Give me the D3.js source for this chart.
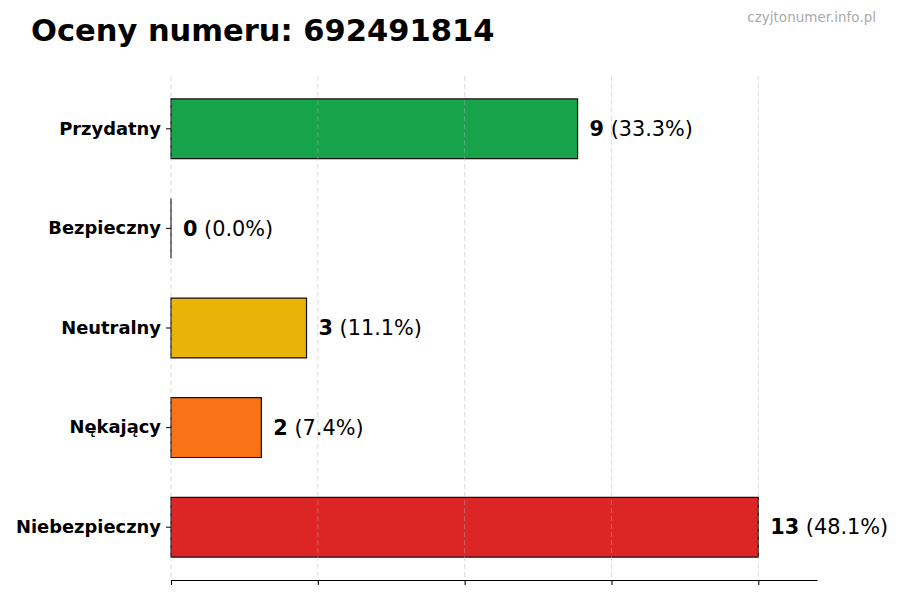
<!DOCTYPE html>
<meta charset="utf-8">
<title>Oceny numeru: 692491814</title>
<style>
    body { margin: 0; background: #fff; }
    svg { font-family: "DejaVu Sans", sans-serif; }
</style>
<script src="https://d3js.org/d3.v7.min.js"></script>
<body>
<div id="chart"></div>
<script>
    // chart data
    var categories = ["Przydatny", "Bezpieczny", "Neutralny", "Nękający", "Niebezpieczny"];
    var counts = [9, 0, 3, 2, 13];
    var colors = ["#16a34a", "#22c55e", "#eab308", "#f97316", "#dc2626"];
    var title = "Oceny numeru: 692491814";
    var watermark = "czyjtonumer.info.pl";

    var total = d3.sum(counts);
    var maxCount = d3.max(counts);

    var canvasWidth = 900,
        canvasHeight = 600,
        margin = {top: 76, right: 83, bottom: 20, left: 171};

    var svg = d3.select("#chart").append("svg")
        .attr("width", canvasWidth)
        .attr("height", canvasHeight);

    var width = canvasWidth - margin.left - margin.right,
        height = canvasHeight - margin.top - margin.bottom;

    var g = svg.append("g").attr("transform", "translate(" + margin.left + "," + margin.top + ")");

    var x = d3.scaleLinear().domain([0, maxCount * 1.1]).range([0, width]);
    var y = d3.scaleBand().domain(categories).range([0, height])
        .paddingInner(0.4).paddingOuter(0.23);

    var xTicks = d3.range(5).map(function(i) { return maxCount * i / 4; });

    // bars as paths so a zero bar still shows its edge
    g.selectAll(".bar")
        .data(categories)
        .enter().append("path")
        .attr("class", "bar")
        .attr("d", function(d, i) {
            var x0 = x(0), w = x(counts[i]) - x(0), y0 = y(d), h = y.bandwidth();
            return "M" + x0 + "," + y0 + "h" + w + "v" + h + "h" + (-w) + "Z";
        })
        .attr("fill", function(d, i) { return colors[i]; })
        .attr("stroke", "#111")
        .attr("stroke-width", 1.2);

    // grid on top of the bars
    g.append("g")
        .selectAll("line")
        .data(xTicks)
        .enter().append("line")
        .attr("x1", function(d) { return x(d); })
        .attr("x2", function(d) { return x(d); })
        .attr("y1", 0)
        .attr("y2", height)
        .attr("stroke", "#b0b0b0")
        .attr("stroke-opacity", 0.55)
        .attr("stroke-width", 0.8)
        .attr("stroke-dasharray", "5,3");

    // x axis: spine + ticks, no labels
    var xAxis = g.append("g")
        .attr("transform", "translate(0," + height + ")")
        .call(d3.axisBottom(x).tickValues(xTicks).tickFormat("").tickSize(5).tickSizeOuter(0));
    xAxis.select(".domain").attr("stroke", "#000").attr("stroke-width", 1.1);
    xAxis.selectAll(".tick line").attr("stroke", "#000").attr("stroke-width", 1.1);

    // y axis: ticks + bold labels, no spine
    var yAxis = g.append("g")
        .call(d3.axisLeft(y).tickSize(5).tickPadding(5));
    yAxis.select(".domain").remove();
    yAxis.selectAll(".tick line").attr("stroke", "#000").attr("stroke-width", 1);
    yAxis.selectAll(".tick text")
        .attr("fill", "#000")
        .style("font-family", "'DejaVu Sans', sans-serif")
        .style("font-size", "17.9px")
        .style("font-weight", "bold");

    // value labels
    var labels = g.selectAll(".value")
        .data(categories)
        .enter().append("text")
        .attr("class", "value")
        .attr("x", function(d, i) { return x(counts[i]) + 12; })
        .attr("y", function(d) { return y(d) + y.bandwidth() / 2; })
        .attr("dy", "0.35em")
        .style("font-size", "20.8px")
        .attr("fill", "#000");
    labels.append("tspan")
        .style("font-weight", "bold")
        .text(function(d, i) { return counts[i]; });
    labels.append("tspan")
        .text(function(d, i) { return " (" + (counts[i] / total * 100).toFixed(1) + "%)"; });

    // title + watermark
    svg.append("text")
        .attr("x", 31)
        .attr("y", 41)
        .style("font-size", "30.5px")
        .style("font-weight", "bold")
        .attr("fill", "#000")
        .text(title);

    svg.append("text")
        .attr("x", 876)
        .attr("y", 22)
        .attr("text-anchor", "end")
        .style("font-size", "13.5px")
        .attr("fill", "#aaa")
        .text(watermark);
</script>
</body>
